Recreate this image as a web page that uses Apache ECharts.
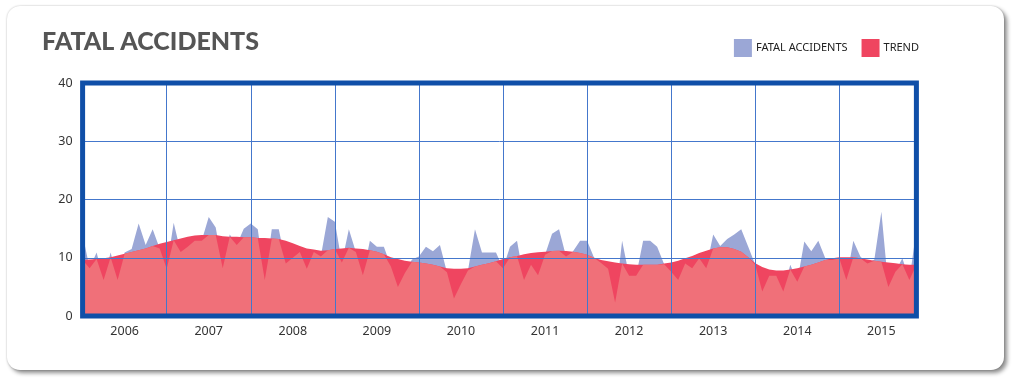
<!DOCTYPE html>
<html>
<head>
<meta charset="utf-8">
<script src="https://cdn.jsdelivr.net/npm/echarts@6/dist/echarts.min.js"></script>
<style>
  html, body { margin: 0; padding: 0; background: #ffffff; }
  #card { position: absolute; left: 7px; top: 6px; width: 997px; height: 364px; background: #fff;
          border-radius: 13px; box-shadow: 0 0 2px rgba(0,0,0,0.25), 3px 3px 4px rgba(0,0,0,0.45); }
  #chart { position: absolute; left: 0; top: 0; width: 1018px; height: 380px; }
</style>
</head>
<body>
<div id="card"></div>
<div id="chart"></div>
<script>
// ---- data (monthly, Jan 2006 – Dec 2015) ----
const years = [2006, 2007, 2008, 2009, 2010, 2011, 2012, 2013, 2014, 2015];

const fatalAccidents = [
  14.0, 8.2, 10.9, 6.2, 10.9, 6.2, 10.9, 11.5, 15.9, 12.2, 14.9, 11.6,
  8.1, 16.0, 11.0, 11.9, 12.9, 12.9, 17.0, 15.2, 8.2, 14.0, 12.2, 15.0,
  15.9, 14.9, 6.2, 14.9, 14.9, 9.0, 10.0, 11.0, 8.1, 11.0, 10.2, 17.0,
  16.2, 9.2, 14.9, 11.0, 7.0, 12.9, 11.9, 11.9, 8.5, 5.0, 7.4, 9.7,
  10.2, 11.9, 11.1, 12.2, 7.5, 3.0, 5.5, 7.8, 14.9, 10.9, 10.9, 10.9,
  8.2, 11.9, 12.9, 6.2, 8.8, 7.0, 10.5, 14.1, 14.9, 10.2, 11.1, 12.9,
  12.9, 10.0, 9.1, 8.1, 2.3, 12.9, 6.9, 6.9, 12.9, 12.9, 11.9, 8.9,
  7.6, 6.2, 9.0, 8.2, 9.9, 8.2, 14.0, 12.0, 13.2, 14.0, 14.9, 11.9,
  8.8, 4.2, 6.9, 6.9, 4.2, 8.8, 5.9, 12.8, 11.1, 12.9, 9.9, 9.6,
  9.9, 6.2, 12.9, 10.2, 9.0, 9.7, 17.9, 5.0, 7.6, 9.9, 6.2, 14.8
];

const trend = [
  9.6, 9.7, 9.8, 9.9, 10.1, 10.4, 10.7, 11.0, 11.3, 11.6, 12.0, 12.4,
  12.7, 13.0, 13.3, 13.6, 13.8, 13.9, 13.9, 13.9, 13.7, 13.6, 13.6, 13.5,
  13.5, 13.4, 13.4, 13.3, 13.2, 12.9, 12.5, 12.0, 11.6, 11.4, 11.2, 11.3,
  11.5, 11.6, 11.7, 11.6, 11.5, 11.3, 11.05, 10.6, 10.1, 9.8, 9.5, 9.3,
  9.2, 9.0, 8.8, 8.5, 8.2, 8.1, 8.1, 8.2, 8.5, 8.8, 9.05, 9.4,
  9.8, 10.1, 10.3, 10.6, 10.8, 10.95, 11.05, 11.15, 11.2, 11.15, 11.05, 10.8,
  10.5, 10.0, 9.6, 9.4, 9.2, 9.0, 8.9, 8.8, 8.8, 8.8, 8.8, 9.0,
  9.2, 9.5, 9.9, 10.3, 10.8, 11.2, 11.6, 11.8, 11.8, 11.5, 11.05, 10.1,
  9.05, 8.4, 8.0, 7.8, 7.8, 8.0, 8.2, 8.5, 8.8, 9.2, 9.6, 9.9,
  10.1, 10.1, 10.1, 9.9, 9.7, 9.5, 9.3, 9.2, 9.05, 8.9, 8.8, 8.8
];

const yTicks = { min: 0, max: 40, interval: 10 };

// ---- derived ----
const months = [];
years.forEach(y => { for (let m = 1; m <= 12; m++) months.push(y + '-' + (m < 10 ? '0' + m : m)); });
const overlap = fatalAccidents.map((v, i) => Math.min(v, trend[i]));

const BLUE = '#9ba7d6', RED = '#ef4560', PINK = '#f07079';
const FONT = '"Noto Sans", "Open Sans", sans-serif';
const GRIDLINE = '#4477cc';

const chart = echarts.init(document.getElementById('chart'), null, { renderer: 'canvas' });

function areaSeries(name, data, color, z) {
  return {
    name, type: 'line', data, z,
    color,
    showSymbol: false, symbol: 'none', smooth: false,
    lineStyle: { width: 0, color },
    areaStyle: { color, opacity: 1 },
    itemStyle: { color },
    emphasis: { disabled: true },
    silent: true, animation: false
  };
}

chart.setOption({
  backgroundColor: 'transparent',
  animation: false,
  title: {
    text: 'FATAL ACCIDENTS',
    left: 37, top: 24,
    textStyle: { fontFamily: 'Lato, "Liberation Sans", sans-serif', fontWeight: 900, fontSize: 25, color: '#555555' }
  },
  legend: {
    right: 94, top: 34,
    itemWidth: 18, itemHeight: 18, itemGap: 14,
    icon: 'rect',
    data: [
      { name: 'FATAL ACCIDENTS', itemStyle: { color: BLUE } },
      { name: 'TREND', itemStyle: { color: RED } }
    ],
    textStyle: { fontFamily: FONT, fontSize: 11, color: '#222', padding: [0, 0, 0, -1] },
    selectedMode: false
  },
  grid: {
    left: 82.6, right: 101.6, top: 83, bottom: 64,
    show: true, borderColor: '#0f4fa8', borderWidth: 5, backgroundColor: 'transparent', z: 10
  },
  xAxis: {
    type: 'category', data: months, boundaryGap: false, z: 6,
    axisLine: { show: false }, axisTick: { show: false },
    axisLabel: {
      interval: (i) => i % 12 === 6,
      formatter: (v) => v.slice(0, 4),
      fontFamily: FONT, fontSize: 12.5, color: '#333', margin: 9
    },
    splitLine: { show: true, interval: (i) => i % 12 === 0 && i > 0, lineStyle: { color: GRIDLINE, width: 1 } }
  },
  yAxis: {
    type: 'value', min: yTicks.min, max: yTicks.max, interval: yTicks.interval, z: 6,
    axisLine: { show: false }, axisTick: { show: false },
    axisLabel: { fontFamily: FONT, fontSize: 12.5, color: '#333', margin: 10 },
    splitLine: { show: true, lineStyle: { color: GRIDLINE, width: 1 } }
  },
  series: [
    areaSeries('FATAL ACCIDENTS', fatalAccidents, BLUE, 2),
    areaSeries('TREND', trend, RED, 3),
    areaSeries('overlap', overlap, PINK, 4)
  ]
});
</script>
</body>
</html>
